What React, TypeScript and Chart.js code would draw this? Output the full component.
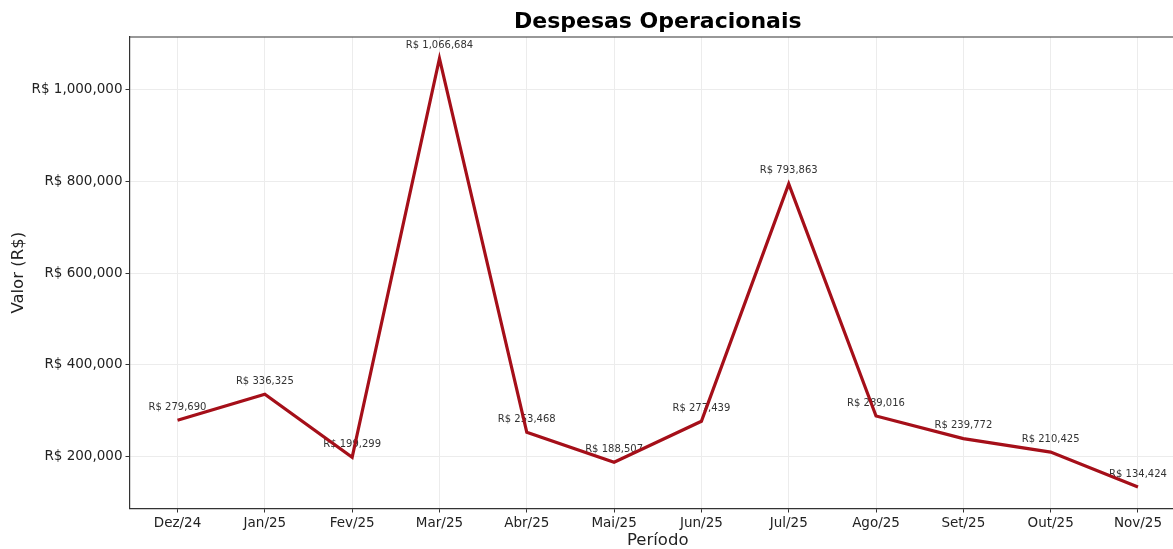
import React, { useEffect, useRef } from 'react';
import { Chart, registerables } from 'chart.js';
Chart.register(...registerables);

const title = 'Despesas Operacionais';
const xTitle = 'Período';
const yTitle = 'Valor (R$)';
const categories = ['Dez/24', 'Jan/25', 'Fev/25', 'Mar/25', 'Abr/25', 'Mai/25', 'Jun/25', 'Jul/25', 'Ago/25', 'Set/25', 'Out/25', 'Nov/25'];
const values = [279690, 336325, 199299, 1066684, 253468, 188507, 277439, 793863, 289016, 239772, 210425, 134424];
const yTicks = [200000, 400000, 600000, 800000, 1000000];

const fmt = (v: number) => 'R$ ' + Math.round(v).toLocaleString('en-US');
const FONT = '"DejaVu Sans", sans-serif';

const W = 1190;
const H = 549;

export default function App() {
  const ref = useRef<HTMLCanvasElement | null>(null);
  useEffect(() => {
    const canvas = ref.current;
    if (!canvas) return;
    const vMin = Math.min(...values);
    const vMax = Math.max(...values);
    const span = vMax - vMin;
    const n = categories.length;

    const decor = {
      id: 'decor',
      beforeDatasetsDraw(chart: any) {
        const ctx = chart.ctx;
        const meta = chart.getDatasetMeta(0);
        ctx.save();
        ctx.font = `10px ${FONT}`;
        ctx.fillStyle = '#333';
        ctx.textAlign = 'center';
        ctx.textBaseline = 'middle';
        meta.data.forEach((pt: any, i: number) => {
          ctx.fillText(fmt(values[i]), pt.x, pt.y - 13);
        });
        ctx.restore();
      },
      afterDraw(chart: any) {
        const ctx = chart.ctx;
        const a = chart.chartArea;
        ctx.save();
        ctx.strokeStyle = '#333';
        ctx.lineWidth = 1.2;
        ctx.beginPath();
        ctx.moveTo(a.left, a.top);
        ctx.lineTo(a.right, a.top);
        ctx.stroke();
        const cx = (a.left + 1186) / 2;
        ctx.textAlign = 'center';
        ctx.textBaseline = 'middle';
        ctx.fillStyle = '#000';
        ctx.font = `bold 22px ${FONT}`;
        ctx.fillText(title, cx, 22);
        ctx.fillStyle = '#222';
        ctx.font = `16.5px ${FONT}`;
        ctx.fillText(xTitle, cx, 541);
        ctx.translate(19, (a.top + a.bottom) / 2);
        ctx.rotate(-Math.PI / 2);
        ctx.fillText(yTitle, 0, 0);
        ctx.restore();
      },
    };

    const chart = new Chart(canvas, {
      type: 'line',
      data: {
        datasets: [
          {
            data: values.map((v, i) => ({ x: i, y: v })),
            borderColor: '#A50F19',
            borderWidth: 3.2,
            pointRadius: 0,
            tension: 0,
            fill: false,
          },
        ],
      },
      options: {
        responsive: false,
        animation: false,
        devicePixelRatio: 1,
        layout: { padding: { top: 37, right: 4, left: 0, bottom: 0 } },
        plugins: { legend: { display: false }, tooltip: { enabled: false }, title: { display: false } },
        scales: {
          x: {
            type: 'linear',
            min: -0.55,
            max: n - 1 + 0.55,
            afterBuildTicks: (s: any) => {
              s.ticks = categories.map((_, i) => ({ value: i }));
            },
            afterFit: (s: any) => {
              s.height = 40.5;
            },
            ticks: {
              autoSkip: false,
              maxRotation: 0,
              padding: 3,
              color: '#222',
              font: { family: FONT, size: 13.5 },
              callback: (v: any) => categories[Math.round(Number(v))] ?? '',
            },
            grid: { color: '#ececec', lineWidth: 1, tickColor: '#333', tickLength: 4, drawTicks: true },
            border: { display: true, color: '#333', width: 1.2 },
          },
          y: {
            type: 'linear',
            min: vMin - span * 0.05,
            max: vMax + span * 0.05,
            afterBuildTicks: (s: any) => {
              s.ticks = yTicks.map((v) => ({ value: v }));
            },
            afterFit: (s: any) => {
              s.width = 129.5;
            },
            ticks: {
              padding: 3,
              color: '#222',
              font: { family: FONT, size: 13.5 },
              callback: (v: any) => fmt(Number(v)),
            },
            grid: { color: '#ececec', lineWidth: 1, tickColor: '#333', tickLength: 4, drawTicks: true },
            border: { display: true, color: '#333', width: 1.2 },
          },
        },
      },
      plugins: [decor],
    });
    return () => chart.destroy();
  }, []);

  return (
    <div style={{ position: 'fixed', left: 0, top: 0, width: W, height: H, background: '#fff' }}>
      <canvas ref={ref} width={W} height={H} style={{ width: W, height: H, display: 'block' }} />
    </div>
  );
}
